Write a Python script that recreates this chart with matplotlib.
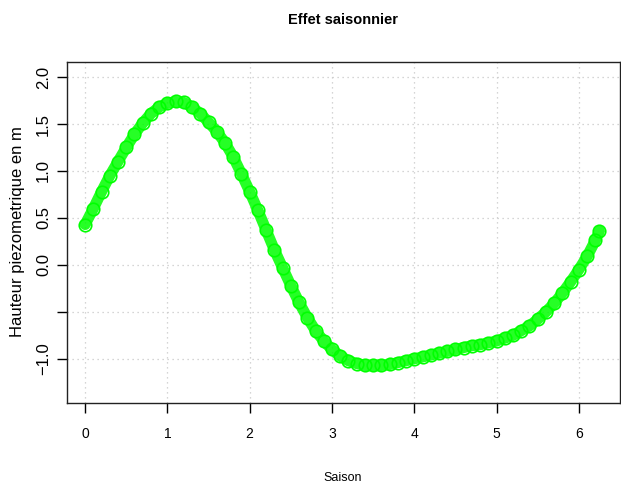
import matplotlib
matplotlib.use("Agg")
import matplotlib.pyplot as plt

plt.rcParams['font.family'] = ['Liberation Sans', 'DejaVu Sans']

saison = [0.0, 0.1, 0.2, 0.3, 0.4, 0.5, 0.6, 0.7, 0.8, 0.9, 1.0, 1.1, 1.2, 1.3, 1.4, 1.5,
          1.6, 1.7, 1.8, 1.9, 2.0, 2.1, 2.2, 2.3, 2.4, 2.5, 2.6, 2.7, 2.8, 2.9, 3.0, 3.1,
          3.2, 3.3, 3.4, 3.5, 3.6, 3.7, 3.8, 3.9, 4.0, 4.1, 4.2, 4.3, 4.4, 4.5, 4.6, 4.7,
          4.8, 4.9, 5.0, 5.1, 5.2, 5.3, 5.4, 5.5, 5.6, 5.7, 5.8, 5.9, 6.0, 6.1, 6.2, 6.25]
hauteur = [0.43, 0.60, 0.78, 0.95, 1.10, 1.25, 1.39, 1.51, 1.61, 1.68, 1.72, 1.74, 1.73,
           1.68, 1.61, 1.52, 1.42, 1.30, 1.15, 0.97, 0.78, 0.58, 0.37, 0.16, -0.03, -0.22,
           -0.40, -0.56, -0.70, -0.81, -0.90, -0.97, -1.02, -1.05, -1.07, -1.07, -1.07,
           -1.06, -1.04, -1.02, -1.00, -0.98, -0.96, -0.94, -0.92, -0.90, -0.88, -0.86,
           -0.85, -0.83, -0.81, -0.78, -0.75, -0.70, -0.65, -0.58, -0.50, -0.41, -0.30,
           -0.18, -0.05, 0.09, 0.26, 0.36]

xticks = [0, 1, 2, 3, 4, 5, 6]
xtick_labels = ["0", "1", "2", "3", "4", "5", "6"]
yticks = [-1.0, -0.5, 0.0, 0.5, 1.0, 1.5, 2.0]
ytick_labels = ["\u22121.0", "", "0.0", "0.5", "1.0", "1.5", "2.0"]

fig = plt.figure(figsize=(6.21, 4.88), dpi=100)
ax = fig.add_axes([67/621, (488-403)/488, (620-67)/621, (403-62)/488])

green = '#00ff00'
ax.plot(saison, hauteur, color=green, lw=8, solid_capstyle='round', zorder=2, alpha=0.85)
ax.plot(saison, hauteur, 'o', mfc='none', mec=green, ms=9, mew=1.2, zorder=3)

ax.set_xlim(-0.22, 6.5)
ax.set_ylim(-1.47, 2.16)
ax.set_xticks(xticks)
ax.set_xticklabels(xtick_labels, fontsize=10)
ax.set_yticks(yticks)
ax.set_yticklabels(ytick_labels, fontsize=12, rotation=90, va='center')
ax.tick_params(direction='out', length=7.5, width=1, colors='black')
ax.tick_params(axis='x', pad=10)
ax.tick_params(axis='y', pad=4)
ax.grid(True, color='#c8c8c8', linestyle=(0, (1, 3)), lw=0.9)
ax.set_axisbelow(True)
for s in ax.spines.values():
    s.set_linewidth(1.0)
    s.set_color('#222222')

fig.text(343/621, 1 - 20/488, "Effet saisonnier", ha='center', va='center',
         fontsize=10.5, fontweight='bold')
fig.text(343/621, 1 - 478/488, "Saison", ha='center', va='center', fontsize=9)
fig.text(18/621, 1 - 232/488, "Hauteur piezometrique en m", ha='center', va='center',
         fontsize=12, rotation=90)

fig.savefig("out.png", dpi=100)
